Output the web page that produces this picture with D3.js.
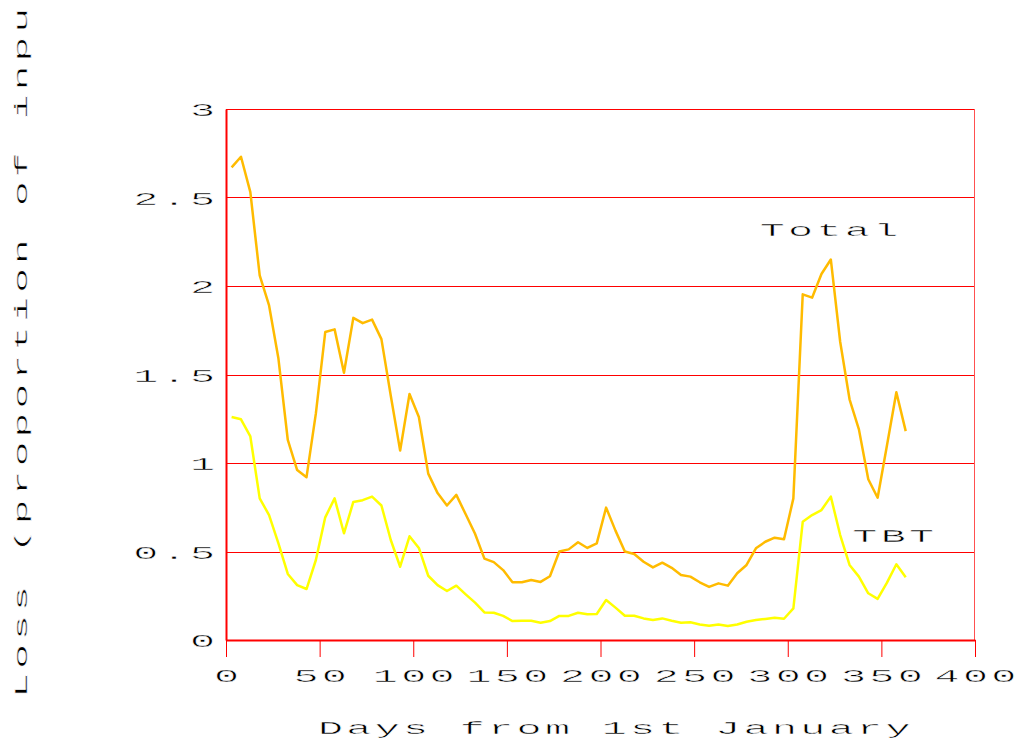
<!DOCTYPE html>
<html>
<head>
<meta charset="utf-8">
<script src="https://cdn.jsdelivr.net/npm/d3@7"></script>
<style>
  body { margin: 0; background: #fff; }
  text { font-family: "Liberation Mono", "Courier New", monospace; font-size: 19px; fill: #000;
         stroke: #fff; stroke-width: 0.45px; paint-order: fill; }
</style>
</head>
<body>
<div id="chart"></div>
<script>
// days (every 5 days through the year)
var days = [3, 8, 13, 18, 23, 28, 33, 38, 43, 48, 53, 58, 63, 68, 73, 78, 83, 88, 93, 98,
    103, 108, 113, 118, 123, 128, 133, 138, 143, 148, 153, 158, 163, 168, 173, 178, 183, 188, 193, 198,
    203, 208, 213, 218, 223, 228, 233, 238, 243, 248, 253, 258, 263, 268, 273, 278, 283, 288, 293, 298,
    303, 308, 313, 318, 323, 328, 333, 338, 343, 348, 353, 358, 363];

// total loss
var totalLoss = [2.67, 2.73, 2.53, 2.06, 1.89, 1.59, 1.13, 0.96, 0.92, 1.28, 1.74, 1.755, 1.51, 1.82, 1.79, 1.81, 1.70, 1.38, 1.07, 1.39,
    1.26, 0.94, 0.83, 0.76, 0.82, 0.71, 0.60, 0.46, 0.44, 0.395, 0.326, 0.326, 0.339, 0.328, 0.36, 0.50, 0.512, 0.552, 0.52, 0.546,
    0.748, 0.618, 0.50, 0.486, 0.442, 0.41, 0.437, 0.408, 0.367, 0.358, 0.326, 0.30, 0.32, 0.307, 0.377, 0.424, 0.518, 0.555, 0.578, 0.569,
    0.80, 1.953, 1.934, 2.068, 2.15, 1.685, 1.36, 1.19, 0.908, 0.804, 1.10, 1.40, 1.18];

// TBT loss
var tbtLoss = [1.26, 1.247, 1.15, 0.80, 0.706, 0.546, 0.373, 0.31, 0.288, 0.452, 0.693, 0.80, 0.603, 0.78, 0.79, 0.81, 0.76, 0.565, 0.414, 0.586,
    0.52, 0.363, 0.31, 0.277, 0.307, 0.258, 0.211, 0.156, 0.154, 0.136, 0.107, 0.109, 0.109, 0.098, 0.107, 0.136, 0.136, 0.154, 0.145, 0.147,
    0.226, 0.183, 0.137, 0.137, 0.122, 0.113, 0.122, 0.109, 0.098, 0.10, 0.088, 0.081, 0.088, 0.079, 0.088, 0.103, 0.113, 0.119, 0.126, 0.12,
    0.179, 0.668, 0.706, 0.734, 0.81, 0.593, 0.424, 0.358, 0.264, 0.232, 0.324, 0.428, 0.354];

// tick values
var xTicks = [0, 50, 100, 150, 200, 250, 300, 350, 400];
var yTicks = [0, 0.5, 1, 1.5, 2, 2.5, 3];

// series labels (day, value where the label starts)
var seriesLabels = [
    { name: "Total", day: 285, value: 2.28 },
    { name: "TBT", day: 334.5, value: 0.554 }
];

// svg area and margins
var svgWidth = 1019;
var svgHeight = 745;
var margin = { top: 109, right: 44, bottom: 105, left: 226 };
var chartWidth = svgWidth - margin.left - margin.right;
var chartHeight = svgHeight - margin.top - margin.bottom;

// the text in the original is wide and squat, so stretch it sideways
var sx = 2.2;
var spacing = 1.5;

var svg = d3.select("#chart")
    .append("svg")
    .attr("width", svgWidth)
    .attr("height", svgHeight);

var chartGroup = svg.append("g")
    .attr("transform", `translate(${margin.left}, ${margin.top})`);

var xScale = d3.scaleLinear().domain([0, 400]).range([0, chartWidth]);
var yScale = d3.scaleLinear().domain([0, 3]).range([chartHeight, 0]);

// horizontal grid lines
chartGroup.append("g")
    .selectAll("line")
    .data(yTicks.filter(d => d > 0))
    .enter()
    .append("line")
    .attr("x1", 0)
    .attr("x2", chartWidth)
    .attr("y1", d => Math.round(yScale(d)) + 0.5)
    .attr("y2", d => Math.round(yScale(d)) + 0.5)
    .attr("stroke", "#ff0000")
    .attr("stroke-width", 1);

// right border
chartGroup.append("line")
    .attr("x1", chartWidth - 0.5).attr("x2", chartWidth - 0.5)
    .attr("y1", 0).attr("y2", chartHeight)
    .attr("stroke", "#ff5050")
    .attr("stroke-width", 1);

// x axis
var xAxis = chartGroup.append("g")
    .attr("transform", `translate(0, ${chartHeight})`)
    .call(d3.axisBottom(xScale).tickValues(xTicks).tickSize(17).tickSizeOuter(0).tickFormat(d3.format("d")));

xAxis.select(".domain").attr("stroke", "#ff0000").attr("stroke-width", 2);
xAxis.selectAll(".tick line").attr("stroke", "#ff0000").attr("stroke-width", 1);
xAxis.selectAll(".tick text")
    .attr("font-family", null)
    .attr("font-size", null)
    .attr("fill", "#000")
    .attr("letter-spacing", spacing + "px")
    .attr("y", 0)
    .attr("dy", 0)
    .attr("x", spacing / 2)
    .attr("transform", `translate(0, 42) scale(${sx}, 1)`);

// y axis
var yAxis = chartGroup.append("g")
    .call(d3.axisLeft(yScale).tickValues(yTicks).tickSize(0).tickSizeOuter(0).tickFormat(d3.format("")));

yAxis.select(".domain").attr("stroke", "#ff0000").attr("stroke-width", 2);
yAxis.selectAll(".tick text")
    .attr("font-family", null)
    .attr("font-size", null)
    .attr("fill", "#000")
    .attr("letter-spacing", spacing + "px")
    .attr("dy", "0.36em")
    .attr("x", spacing)
    .attr("transform", `translate(-11, 0) scale(${sx}, 1)`);

// lines
var data = days.map((d, i) => ({ day: d, total: totalLoss[i], tbt: tbtLoss[i] }));

var totalLine = d3.line().x(d => xScale(d.day)).y(d => yScale(d.total));
var tbtLine = d3.line().x(d => xScale(d.day)).y(d => yScale(d.tbt));

chartGroup.append("path")
    .datum(data)
    .attr("d", tbtLine)
    .attr("fill", "none")
    .attr("stroke", "#ffff00")
    .attr("stroke-width", 2.5)
    .attr("stroke-linejoin", "round");

chartGroup.append("path")
    .datum(data)
    .attr("d", totalLine)
    .attr("fill", "none")
    .attr("stroke", "#ffbb00")
    .attr("stroke-width", 2.5)
    .attr("stroke-linejoin", "round");

// series labels
chartGroup.selectAll(".series-label")
    .data(seriesLabels)
    .enter()
    .append("text")
    .attr("class", "series-label")
    .attr("letter-spacing", spacing + "px")
    .attr("transform", d => `translate(${xScale(d.day)}, ${yScale(d.value)}) scale(${sx}, 1)`)
    .text(d => d.name);

// axis titles
svg.append("text")
    .attr("letter-spacing", spacing + "px")
    .attr("transform", `translate(318, 734) scale(${sx}, 1)`)
    .text("Days from 1st January");

// the y title runs off the top of the picture, as in the original
svg.append("text")
    .attr("letter-spacing", "1.75px")
    .attr("transform", `translate(27, 698) rotate(-90) scale(${sx}, 1)`)
    .text("Loss (proportion of input)");
</script>
</body>
</html>
